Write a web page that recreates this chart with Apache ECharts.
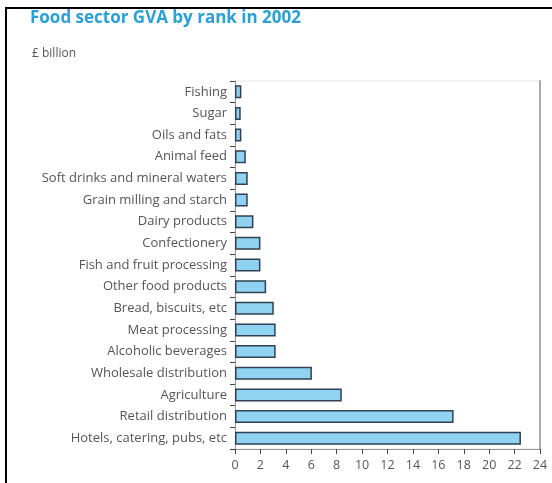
<!DOCTYPE html>
<html lang="en">
<head>
    <meta charset="UTF-8">
    <title>Food sector GVA</title>
    <script src="https://cdn.jsdelivr.net/npm/echarts@6.0.0/dist/echarts.min.js"></script>
    <style>
        body { margin: 0; background: #fff; }
    </style>
</head>
<body>
    <div id="main" style="width: 552px;height:483px;"></div>
    <script type="text/javascript">
        // Categories, top to bottom as in the chart
        const categories = [
            'Fishing', 'Sugar', 'Oils and fats', 'Animal feed',
            'Soft drinks and mineral waters', 'Grain milling and starch',
            'Dairy products', 'Confectionery', 'Fish and fruit processing',
            'Other food products', 'Bread, biscuits, etc', 'Meat processing',
            'Alcoholic beverages', 'Wholesale distribution', 'Agriculture',
            'Retail distribution', 'Hotels, catering, pubs, etc'
        ];
        // GVA, £ billion
        const gva = [0.5, 0.45, 0.5, 0.85, 1.0, 1.0, 1.45, 2.0, 2.0, 2.45, 3.05, 3.2, 3.2, 6.05, 8.4, 17.2, 22.5];
        const xTicks = [0, 24, 2];

        const font = "'Open Sans', sans-serif";
        let myChart = echarts.init(document.getElementById('main'));

        let options = {
            animation: false,
            backgroundColor: '#fff',
            title: [
                {
                    text: 'Food sector GVA by rank in 2002',
                    left: 25, top: 5,
                    textStyle: { color: '#2aa0d4', fontSize: 17, fontWeight: 'bold', fontFamily: font }
                },
                {
                    text: '£ billion',
                    left: 27, top: 43,
                    textStyle: { color: '#555', fontSize: 12, fontWeight: 'normal', fontFamily: font }
                }
            ],
            grid: {
                left: 235, right: 12, top: 81, bottom: 34,
                show: true, borderColor: '#e6e6e6', borderWidth: 1
            },
            xAxis: {
                type: 'value',
                min: xTicks[0], max: xTicks[1], interval: xTicks[2],
                splitLine: { show: false },
                axisLine: { show: true, lineStyle: { color: '#999' } },
                axisTick: { show: true, length: 5, lineStyle: { color: '#444' } },
                axisLabel: { color: '#555', fontSize: 12.5, fontFamily: font, margin: 10 }
            },
            yAxis: [
                {
                    type: 'category',
                    data: categories,
                    inverse: true,
                    axisLine: { show: true, lineStyle: { color: '#999' } },
                    axisTick: { show: true, length: 5, lineStyle: { color: '#444' } },
                    axisLabel: { color: '#555', fontSize: 13, fontFamily: font, margin: 8 }
                },
                {
                    type: 'category',
                    data: categories,
                    inverse: true,
                    position: 'right',
                    axisLine: { show: true, lineStyle: { color: '#aaa', width: 2 } },
                    axisTick: { show: false },
                    axisLabel: { show: false }
                }
            ],
            series: [{
                name: 'GVA',
                type: 'bar',
                data: gva,
                barCategoryGap: '40%',
                itemStyle: { color: '#8fd2f1', borderColor: '#2f4152', borderWidth: 1.5 }
            }],
            graphic: [
                { type: 'line', shape: { x1: 5, y1: 8, x2: 552, y2: 8 }, style: { stroke: '#000', lineWidth: 2 } },
                { type: 'line', shape: { x1: 6, y1: 7, x2: 6, y2: 483 }, style: { stroke: '#000', lineWidth: 2 } }
            ]
        };

        myChart.setOption(options);
    </script>
</body>
</html>
